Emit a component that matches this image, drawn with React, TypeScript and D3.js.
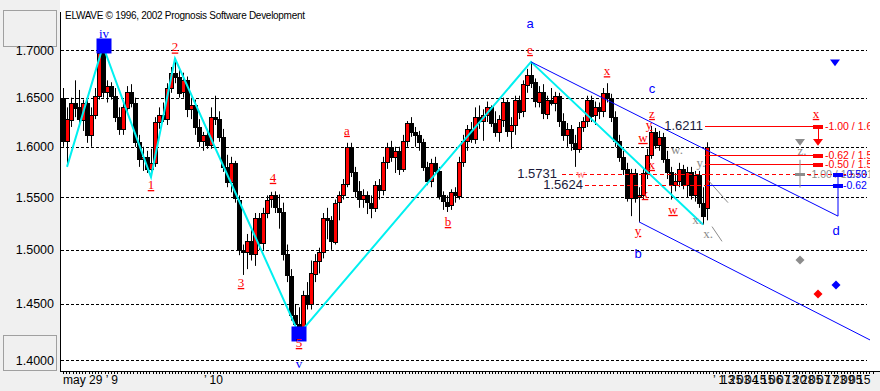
import React from 'react';
import * as d3 from 'd3';

const W = 880;
const H = 391;

// price grid (log scale)
const gridPrices = [1.4, 1.45, 1.5, 1.55, 1.6, 1.65, 1.7];

// daily candles [open, high, low, close]
const candles: [number, number, number, number][] = [
  [1.650, 1.660, 1.600, 1.606], [1.606, 1.640, 1.580, 1.628], [1.628, 1.650, 1.620, 1.645], [1.645, 1.668, 1.630, 1.640],
  [1.640, 1.658, 1.620, 1.628], [1.628, 1.648, 1.616, 1.645], [1.645, 1.650, 1.604, 1.612], [1.612, 1.640, 1.600, 1.632],
  [1.632, 1.660, 1.628, 1.652], [1.652, 1.702, 1.648, 1.697], [1.697, 1.7043, 1.650, 1.656], [1.656, 1.668, 1.645, 1.662],
  [1.662, 1.666, 1.648, 1.652], [1.652, 1.660, 1.625, 1.630], [1.630, 1.640, 1.612, 1.618], [1.618, 1.645, 1.612, 1.640],
  [1.640, 1.662, 1.635, 1.656], [1.656, 1.664, 1.640, 1.645], [1.645, 1.650, 1.600, 1.605], [1.605, 1.612, 1.580, 1.588],
  [1.588, 1.600, 1.576, 1.590], [1.590, 1.596, 1.574, 1.578], [1.578, 1.598, 1.570, 1.584], [1.584, 1.630, 1.580, 1.625],
  [1.625, 1.640, 1.618, 1.632], [1.632, 1.645, 1.625, 1.628], [1.628, 1.665, 1.622, 1.660], [1.660, 1.682, 1.655, 1.676],
  [1.676, 1.691, 1.665, 1.672], [1.672, 1.680, 1.650, 1.655], [1.655, 1.676, 1.650, 1.668], [1.668, 1.672, 1.630, 1.638],
  [1.638, 1.650, 1.628, 1.642], [1.642, 1.648, 1.612, 1.620], [1.620, 1.628, 1.600, 1.606], [1.606, 1.615, 1.596, 1.612],
  [1.612, 1.618, 1.598, 1.602], [1.602, 1.640, 1.598, 1.630], [1.630, 1.652, 1.622, 1.628], [1.628, 1.636, 1.605, 1.610],
  [1.610, 1.618, 1.575, 1.580], [1.580, 1.592, 1.560, 1.565], [1.565, 1.590, 1.555, 1.584], [1.584, 1.586, 1.545, 1.550],
  [1.548, 1.552, 1.495, 1.500], [1.500, 1.505, 1.4766, 1.498], [1.498, 1.515, 1.482, 1.508], [1.508, 1.520, 1.490, 1.496],
  [1.496, 1.535, 1.485, 1.530], [1.530, 1.535, 1.500, 1.506], [1.506, 1.540, 1.500, 1.535], [1.535, 1.552, 1.530, 1.548],
  [1.548, 1.5555, 1.540, 1.552], [1.552, 1.556, 1.535, 1.540], [1.540, 1.553, 1.520, 1.536], [1.536, 1.545, 1.490, 1.496],
  [1.496, 1.505, 1.470, 1.476], [1.476, 1.482, 1.435, 1.440], [1.440, 1.450, 1.428, 1.432], [1.432, 1.447, 1.423, 1.428],
  [1.428, 1.462, 1.425, 1.458], [1.458, 1.470, 1.445, 1.450], [1.450, 1.490, 1.445, 1.478], [1.478, 1.496, 1.470, 1.490],
  [1.490, 1.502, 1.478, 1.498], [1.498, 1.535, 1.492, 1.530], [1.530, 1.540, 1.510, 1.528], [1.528, 1.532, 1.500, 1.508],
  [1.508, 1.548, 1.505, 1.545], [1.545, 1.556, 1.528, 1.552], [1.552, 1.568, 1.548, 1.563], [1.563, 1.604, 1.560, 1.600],
  [1.600, 1.604, 1.570, 1.575], [1.575, 1.580, 1.550, 1.556], [1.556, 1.566, 1.540, 1.548], [1.548, 1.558, 1.540, 1.552],
  [1.552, 1.556, 1.534, 1.545], [1.545, 1.552, 1.530, 1.540], [1.540, 1.566, 1.536, 1.562], [1.562, 1.568, 1.548, 1.557],
  [1.557, 1.590, 1.552, 1.585], [1.585, 1.604, 1.578, 1.600], [1.600, 1.606, 1.585, 1.590], [1.590, 1.600, 1.574, 1.596],
  [1.596, 1.600, 1.572, 1.578], [1.578, 1.612, 1.575, 1.606], [1.606, 1.626, 1.600, 1.624], [1.624, 1.630, 1.610, 1.615],
  [1.615, 1.620, 1.600, 1.612], [1.612, 1.616, 1.596, 1.605], [1.605, 1.608, 1.576, 1.580], [1.580, 1.585, 1.562, 1.566],
  [1.566, 1.588, 1.560, 1.584], [1.584, 1.590, 1.574, 1.576], [1.576, 1.580, 1.548, 1.552], [1.552, 1.556, 1.538, 1.546],
  [1.546, 1.552, 1.536, 1.542], [1.542, 1.558, 1.538, 1.555], [1.555, 1.560, 1.545, 1.552], [1.552, 1.590, 1.548, 1.585],
  [1.585, 1.612, 1.580, 1.606], [1.606, 1.622, 1.596, 1.618], [1.618, 1.625, 1.604, 1.608], [1.608, 1.640, 1.603, 1.630],
  [1.630, 1.642, 1.618, 1.626], [1.626, 1.638, 1.606, 1.632], [1.632, 1.646, 1.625, 1.640], [1.640, 1.642, 1.620, 1.624],
  [1.624, 1.636, 1.610, 1.615], [1.615, 1.632, 1.605, 1.628], [1.628, 1.650, 1.620, 1.646], [1.646, 1.648, 1.610, 1.616],
  [1.616, 1.630, 1.598, 1.622], [1.622, 1.652, 1.612, 1.648], [1.648, 1.652, 1.628, 1.636], [1.636, 1.668, 1.630, 1.664],
  [1.664, 1.680, 1.655, 1.674], [1.674, 1.6874, 1.660, 1.666], [1.666, 1.670, 1.640, 1.646], [1.646, 1.662, 1.640, 1.656],
  [1.656, 1.664, 1.628, 1.634], [1.634, 1.652, 1.628, 1.648], [1.648, 1.660, 1.642, 1.645], [1.645, 1.656, 1.636, 1.652],
  [1.652, 1.655, 1.620, 1.626], [1.626, 1.634, 1.606, 1.612], [1.612, 1.624, 1.600, 1.618], [1.618, 1.622, 1.596, 1.604],
  [1.604, 1.612, 1.580, 1.598], [1.598, 1.625, 1.594, 1.620], [1.620, 1.630, 1.615, 1.626], [1.626, 1.652, 1.620, 1.648],
  [1.648, 1.652, 1.625, 1.632], [1.632, 1.646, 1.622, 1.640], [1.640, 1.645, 1.628, 1.636], [1.636, 1.660, 1.630, 1.655],
  [1.655, 1.665, 1.645, 1.650], [1.650, 1.654, 1.625, 1.630], [1.630, 1.636, 1.600, 1.606], [1.606, 1.612, 1.585, 1.590],
  [1.590, 1.596, 1.572, 1.578], [1.578, 1.584, 1.546, 1.550], [1.550, 1.578, 1.532, 1.574], [1.574, 1.578, 1.545, 1.550],
  [1.550, 1.560, 1.5265, 1.552], [1.552, 1.578, 1.548, 1.574], [1.574, 1.598, 1.568, 1.592], [1.592, 1.6211, 1.588, 1.615],
  [1.615, 1.619, 1.598, 1.602], [1.602, 1.616, 1.596, 1.610], [1.610, 1.614, 1.584, 1.588], [1.588, 1.596, 1.568, 1.575],
  [1.575, 1.580, 1.548, 1.562], [1.562, 1.574, 1.556, 1.566], [1.566, 1.584, 1.560, 1.578], [1.578, 1.582, 1.558, 1.562],
  [1.562, 1.580, 1.550, 1.575], [1.575, 1.580, 1.548, 1.552], [1.552, 1.576, 1.546, 1.572], [1.572, 1.576, 1.540, 1.545],
  [1.545, 1.560, 1.524, 1.532], [1.540, 1.6045, 1.528, 1.600],
];

// cyan wave path (index, price)
const waveIdx = [1, 10, 22, 28, 59, 117, 160];
const wavePrice = [1.58, 1.7043, 1.57, 1.691, 1.423, 1.6874, 1.524];

// blue boxes at major turns
const boxIdx = [10.25, 59];
const boxPrice = [1.7043, 1.423];

// channel lines [i0, p0, i1, p1]
const channels: [number, number, number, number][] = [
  [117, 1.6874, 193.75, 1.532],
  [144, 1.5265, 201.75, 1.4177],
];

// wave labels
type Lbl = { t: string; i: number; p: number; dy: number; c: string; f: string; u?: boolean };
const serif = 'Liberation Serif, Times New Roman, serif';
const sans = 'Liberation Sans, Arial, sans-serif';
const RED = '#ff0000';
const BLUE = '#0000ff';
const GRAY = '#8c8c8c';
const waveLabels: Lbl[] = [
  { t: 'iv', i: 10.25, p: 1.7043, dy: -8, c: BLUE, f: serif },
  { t: '2', i: 28, p: 1.691, dy: -7, c: RED, f: serif, u: true },
  { t: '1', i: 22, p: 1.57, dy: 12, c: RED, f: serif, u: true },
  { t: '3', i: 44.5, p: 1.4766, dy: 12, c: RED, f: serif, u: true },
  { t: '4', i: 52.5, p: 1.5555, dy: -10, c: RED, f: serif, u: true },
  { t: '5', i: 59, p: 1.423, dy: 13, c: RED, f: serif, u: true },
  { t: 'v', i: 59, p: 1.423, dy: 34, c: BLUE, f: serif },
  { t: 'a', i: 71, p: 1.604, dy: -8, c: RED, f: serif, u: true },
  { t: 'b', i: 96.25, p: 1.536, dy: 14, c: RED, f: serif, u: true },
  { t: 'e', i: 116.75, p: 1.6874, dy: -8, c: RED, f: serif, u: true },
  { t: 'a', i: 116.75, p: 1.6874, dy: -34, c: BLUE, f: sans },
  { t: 'x', i: 136, p: 1.665, dy: -8, c: RED, f: serif, u: true },
  { t: 'c', i: 147.25, p: 1.6211, dy: -33, c: BLUE, f: sans },
  { t: 'z', i: 147.25, p: 1.6211, dy: -8, c: RED, f: serif, u: true },
  { t: 'y', i: 146.5, p: 1.6211, dy: 3, c: RED, f: serif, u: true },
  { t: 'w', i: 145, p: 1.6211, dy: 16, c: RED, f: serif, u: true },
  { t: 'x', i: 147.2, p: 1.5731, dy: -5, c: RED, f: serif, u: true },
  { t: 'x', i: 145.5, p: 1.5265, dy: -24, c: RED, f: serif, u: true },
  { t: 'w', i: 152.5, p: 1.5265, dy: -8, c: RED, f: serif, u: true },
  { t: 'y', i: 143.75, p: 1.5265, dy: 13, c: RED, f: serif, u: true },
  { t: 'b', i: 143.75, p: 1.5265, dy: 36, c: BLUE, f: sans },
  { t: 'w', i: 129.5, p: 1.5731, dy: 4, c: '#ff7878', f: serif },
  { t: 'w.', i: 153.5, p: 1.5731, dy: -20, c: GRAY, f: serif },
  { t: 'y.', i: 159.5, p: 1.5731, dy: -7, c: GRAY, f: serif },
  { t: 'x.', i: 158.5, p: 1.524, dy: 0, c: GRAY, f: serif },
  { t: 'x.', i: 161.25, p: 1.524, dy: 14, c: GRAY, f: serif },
  { t: 'z.', i: 184.75, p: 1.5731, dy: -19, c: GRAY, f: serif },
  { t: 'x', i: 188.25, p: 1.6211, dy: -8, c: RED, f: serif, u: true },
  { t: 'd', i: 193.25, p: 1.532, dy: 19, c: BLUE, f: sans },
];

// projected targets
const targetIdx = 188.75;
const targetPrices = [1.6211, 1.592, 1.583];
const targetTexts = ['-1.00 / 1.6211', '-0.62 / 1.5920', '-0.50 / 1.5830'];
const keyLevels = [1.6211, 1.5731, 1.5624];
const keyIdx = [160, 123.5, 130];

// bottom date labels
const dateIdx = [0, 35.25];
const dateTexts = ['may 29 \u2019 9', '\u2019 10'];
const lateDateIdx = [162.5, 164.5, 166.5, 168.5, 170.5, 172.5, 174.5, 176.5, 178.5, 180.5, 182.5, 184.5, 186.5, 188.5, 190.5, 192.5, 194.5, 196.5, 198.5];
const lateDateTexts = ['\u2019 1', '13', '25', '03', '04', '15', '15', '06', '07', '13', '20', '28', '05', '07', '17', '23', '09', '05', '15'];

export default function App() {
  const x = d3.scaleLinear().domain([0, 201.75]).range([63, 870]);
  const y = d3.scaleLog().domain([1.4, 1.7]).range([360, 50]);
  const line = d3.line<number>().x((_, k) => x(waveIdx[k])).y((d) => y(d));
  const ticks = d3.range(0, 202.5, 0.8);
  const ry = (p: number) => Math.round(y(p)) + 0.5;

  const diamond = (cx: number, cy: number, r: number) => `M${cx},${cy - r}L${cx + r},${cy}L${cx},${cy + r}L${cx - r},${cy}Z`;
  const triDown = (cx: number, cy: number, r: number) => `M${cx - r},${cy - r / 1.5}L${cx + r},${cy - r / 1.5}L${cx},${cy + r / 1.5}Z`;

  return (
    <svg width={W} height={H} style={{ position: 'absolute', left: 0, top: 0, background: '#f0f0f0' }}>
      <defs>
        <clipPath id="plot">
          <rect x={60} y={0} width={810} height={371} />
        </clipPath>
      </defs>
      {/* left panel boxes */}
      <rect x={3.5} y={10.5} width={53} height={36} fill="#f0f0f0" stroke="#a0a0a0" />
      <rect x={3.5} y={335.5} width={53} height={35} fill="#f0f0f0" stroke="#a0a0a0" />
      <rect x={60} y={0} width={820} height={371} fill="#fff" />
      <line x1={60.5} x2={60.5} y1={12} y2={372} stroke="#000" />
      <text x={65} y={19} fontFamily={sans} fontSize={10} textLength={240} fill="#000">
        ELWAVE © 1996, 2002 Prognosis Software Development
      </text>

      {gridPrices.map((p) => (
        <g key={p}>
          <line x1={61} x2={867} y1={ry(p)} y2={ry(p)} stroke="#000" strokeDasharray="3,2" />
          <text x={54} y={y(p) + 4.5} textAnchor="end" fontFamily={sans} fontSize={12.5} fill="#000">
            {p.toFixed(4)}
          </text>
        </g>
      ))}

      <g clipPath="url(#plot)">
        {/* candles */}
        {candles.map(([o, h, l, c], i) => {
          const cx = Math.round(x(i));
          const up = c >= o;
          const top = y(Math.max(o, c));
          const bot = y(Math.min(o, c));
          return (
            <g key={i}>
              <line x1={cx + 0.5} x2={cx + 0.5} y1={y(h)} y2={y(l)} stroke="#000" />
              <rect x={cx - 1.5} y={Math.round(top) + 0.5} width={4} height={Math.max(1, Math.round(bot - top))}
                fill={up ? RED : '#000'} stroke="#000" />
            </g>
          );
        })}

        {/* wave path */}
        <path d={line(wavePrice) || ''} fill="none" stroke="#00f0f0" strokeWidth={2} />
        {boxIdx.map((bi, k) => (
          <rect key={k} x={x(bi) - 7.5} y={y(boxPrice[k]) - 7.5} width={15} height={15} fill={BLUE} />
        ))}

        {/* channels */}
        {channels.map(([i0, p0, i1, p1], k) => (
          <line key={k} x1={x(i0)} y1={y(p0)} x2={x(i1)} y2={y(p1)} stroke={BLUE} strokeWidth={1} />
        ))}

        {/* gray sketch lines */}
        <line x1={x(161.25)} y1={y(1.567)} x2={x(166.25)} y2={y(1.545)} stroke={GRAY} />
        <line x1={x(162.25)} y1={y(1.522)} x2={x(164.75)} y2={y(1.508)} stroke={GRAY} />

        {/* key level dashed lines */}
        <line x1={x(124.75)} x2={x(201.75)} y1={ry(1.5731)} y2={ry(1.5731)} stroke={RED} strokeDasharray="4,3" />
        <line x1={x(130.5)} x2={x(161)} y1={ry(1.5624)} y2={ry(1.5624)} stroke={RED} strokeDasharray="4,3" />
        <line x1={x(161)} x2={x(193.75)} y1={ry(1.5624)} y2={ry(1.5624)} stroke={BLUE} />

        {/* target lines */}
        {targetPrices.map((p, k) => (
          <g key={k}>
            <line x1={x(160.5)} x2={x(targetIdx)} y1={ry(p)} y2={ry(p)} stroke={RED} />
            <rect x={x(targetIdx) - 5} y={Math.round(y(p)) - 1} width={10} height={4} fill={RED} />
            <text x={x(targetIdx) + 7} y={y(p) + 4} fontFamily={sans} fontSize={10.5} fill={RED}>{targetTexts[k]}</text>
          </g>
        ))}
        <line x1={x(targetIdx) + 0.5} x2={x(targetIdx) + 0.5} y1={y(1.6211)} y2={y(1.6045)} stroke={RED} />
        <path d={triDown(x(targetIdx), y(1.6045), 5)} fill={RED} />

        {/* gray projection */}
        <line x1={x(184.25)} x2={x(184.25)} y1={y(1.587)} y2={y(1.5597)} stroke={GRAY} />
        <line x1={x(184.25) - 5} x2={x(184.25) + 5} y1={ry(1.5731)} y2={ry(1.5731)} stroke={GRAY} strokeWidth={3} />
        <path d={triDown(x(184.25), y(1.6045), 5)} fill={GRAY} />
        <text x={x(184.25) + 8} y={y(1.5731) + 4} fontFamily={sans} fontSize={10.5} fill={GRAY}>-1.00 / 1.5731</text>

        {/* blue projection */}
        <line x1={x(193.75)} x2={x(193.75)} y1={y(1.5731)} y2={y(1.532)} stroke={BLUE} />
        {[1.5731, 1.5624].map((p) => (
          <rect key={p} x={x(193.75) - 5} y={Math.round(y(p)) - 1} width={10} height={4} fill={BLUE} />
        ))}
        <text x={x(193.75) + 5} y={y(1.5731) + 4} fontFamily={sans} fontSize={10.5} fill={BLUE}>-0.50 / 1.5598</text>
        <text x={x(193.75) + 5} y={y(1.5624) + 4} fontFamily={sans} fontSize={10.5} fill={BLUE}>-0.62</text>

        {/* markers */}
        <path d={triDown(x(193), y(1.6863), 5)} fill={BLUE} />
        <path d={diamond(x(184.25), y(1.4905), 4.5)} fill={GRAY} />
        <path d={diamond(x(188.75), y(1.459), 4.5)} fill={RED} />
        <path d={diamond(x(193.25), y(1.4673), 4.5)} fill={BLUE} />

        {/* wave labels */}
        {waveLabels.map((l, k) => (
          <text key={k} x={x(l.i)} y={y(l.p) + l.dy} textAnchor="middle" fontFamily={l.f} fontSize={13}
            fill={l.c} textDecoration={l.u ? 'underline' : undefined}>
            {l.t}
          </text>
        ))}

        {/* key price labels */}
        {keyLevels.map((p, k) => (
          <text key={p} x={x(keyIdx[k])} y={y(p) + 4.5} textAnchor="end" fontFamily={sans} fontSize={13} fill="#1a1a3a">
            {p.toFixed(4)}
          </text>
        ))}
      </g>

      {/* bottom axis */}
      <rect x={0} y={372} width={W} height={19} fill="#f0f0f0" />
      <line x1={60} x2={880} y1={371.5} y2={371.5} stroke="#000" />
      {ticks.map((t) => (
        <line key={t} x1={Math.round(x(t)) + 0.5} x2={Math.round(x(t)) + 0.5} y1={372} y2={374} stroke="#000" />
      ))}
      {dateIdx.map((d, k) => (
        <text key={k} x={x(d)} y={384} fontFamily={sans} fontSize={12} fill="#000">{dateTexts[k]}</text>
      ))}
      {lateDateIdx.map((d, k) => (
        <text key={'l' + k} x={x(d)} y={384} fontFamily={sans} fontSize={12} fill="#000">{lateDateTexts[k]}</text>
      ))}
    </svg>
  );
}
